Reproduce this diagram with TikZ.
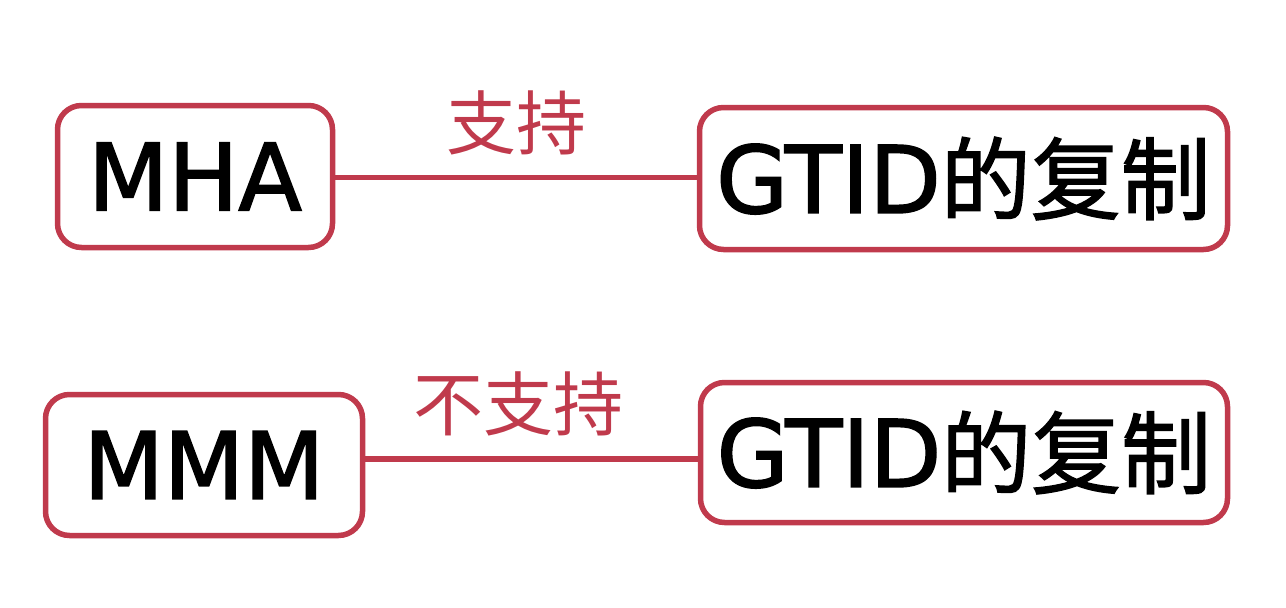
\documentclass[tikz,border=0pt]{standalone}
\usepackage{fontspec}
\setmainfont{DejaVu Sans}
\newfontfamily\boxfont{DejaVu Sans}[FakeBold=1.8]
\newfontfamily\cjk{Noto Sans CJK SC}
\newfontfamily\cjkbox{Noto Sans CJK SC}[FakeBold=1.5]
\usetikzlibrary{calc}
\definecolor{boxred}{RGB}{192,58,76}

\begin{document}
\begin{tikzpicture}[x=1pt,y=-1pt,
	box/.style={draw=boxred,line width=5.5pt,rounded corners=24pt,
		inner sep=0pt,font=\boxfont\fontsize{93}{100}\selectfont},
	link/.style={draw=boxred,line width=5.5pt},
	tag/.style={text=boxred,inner sep=0pt,font=\cjk\fontsize{70}{80}\selectfont}]
\useasboundingbox (0,0) rectangle (1286,608);

\node[box,minimum width=275pt,minimum height=142pt] (mha) at (195,176.5) {MHA};
\node[box,minimum width=528pt,minimum height=142pt] (gtida) at (963.5,178.5) {GTID{\cjkbox\fontsize{90}{100}\selectfont 的复制}};
\node[box,minimum width=317pt,minimum height=141pt] (mmm) at (204,465) {MMM};
\node[box,minimum width=527pt,minimum height=140pt] (gtidb) at (964,452.5) {GTID{\cjkbox\fontsize{90}{100}\selectfont 的复制}};

\coordinate (up) at ($(mha.east)!.5!(gtida.west)$);
\coordinate (down) at ($(mmm.east)!.5!(gtidb.west)$);

\draw[link] (up -| mha.east) -- node[tag,midway,above=20pt] (yes) {支持} (up -| gtida.west);
\draw[link] (down -| mmm.east) -- node[tag,pos=.46,above=20pt] (no) {不支持} (down -| gtidb.west);

\end{tikzpicture}
\end{document}
